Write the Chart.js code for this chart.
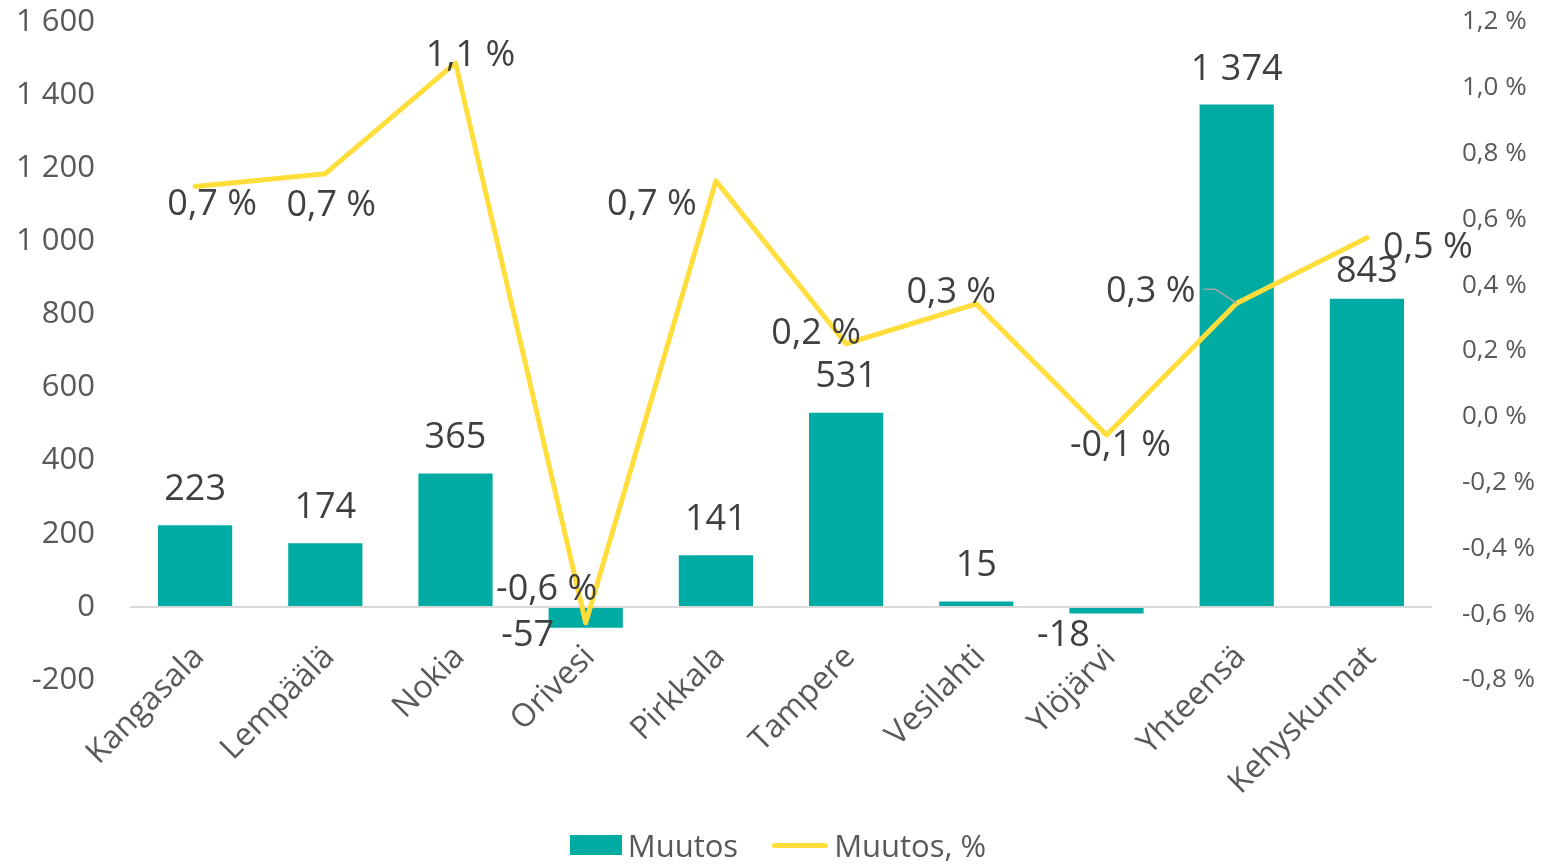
<!DOCTYPE html>
<html>
<head>
<meta charset="utf-8">
<script src="https://cdn.jsdelivr.net/npm/chart.js@4/dist/chart.umd.min.js"></script>
<style>
  html, body { margin: 0; padding: 0; background: #fff; }
  #wrap { position: relative; width: 1556px; height: 864px; }
  #legend {
    position: absolute; left: 0; right: 0; top: 824px; height: 42px;
    display: flex; justify-content: center; align-items: center;
    font-family: 'Open Sans', 'Noto Sans', sans-serif; font-size: 31px; color: #595959;
  }
  #legend .item { display: flex; align-items: center; margin: 0 17px; }
  #legend .mark { margin-right: 6px; }
</style>
</head>
<body>
<div id="wrap">
  <canvas id="chart" width="1556" height="864"></canvas>
  <div id="legend"></div>
</div>
<script>
// data
const categories = ["Kangasala", "Lempäälä", "Nokia", "Orivesi", "Pirkkala", "Tampere", "Vesilahti", "Ylöjärvi", "Yhteensä", "Kehyskunnat"];
const muutos = [223, 174, 365, -57, 141, 531, 15, -18, 1374, 843];
const muutosPct = [0.70, 0.739, 1.076, -0.626, 0.717, 0.222, 0.343, -0.055, 0.345, 0.544];

// label placement (pixel nudges, like Excel's hand-moved labels)
const barLabelDx = [0, 0, 0, -58, 0, 0, 0, -43, 0, 0];
const barLabelDy = [-36, -36, -36, 8, -36, -36, -36, 22, -35, -27];
const lineLabelDx = [17, 6, 15, -39, -64, -30, -25, 14, -86, 61];
const lineLabelDy = [18, 32, -7, -33, 24, -10, -11, 11, -12, 10];
const leader = [false, false, false, false, false, false, false, false, true, false];

const TEAL = "#00ABA3";
const YELLOW = "#FFDE3B";
const FONT = "'Open Sans', 'Noto Sans', sans-serif";

function fmtInt(v) {
  const s = String(Math.abs(v)).replace(/\B(?=(\d{3})+(?!\d))/g, " ");
  return (v < 0 ? "-" : "") + s;
}
function fmtPct(v) {
  if (Math.abs(v) < 1e-9) v = 0;
  return v.toFixed(1).replace(".", ",") + " %";
}

const dataLabels = {
  id: "dataLabels",
  afterDatasetsDraw(chart) {
    const ctx = chart.ctx;
    const yScale = chart.scales.y;
    const xScale = chart.scales.x;
    ctx.save();

    // category labels hang from the zero line, rotated 45°
    ctx.font = "32px " + FONT;
    ctx.fillStyle = "#595959";
    ctx.textAlign = "right";
    ctx.textBaseline = "middle";
    const zeroY = yScale.getPixelForValue(0);
    categories.forEach((c, i) => {
      const x = xScale.getPixelForValue(i);
      ctx.save();
      ctx.translate(x + 4, zeroY + 45);
      ctx.rotate(-Math.PI / 4);
      ctx.fillText(c, 0, 0);
      ctx.restore();
    });

    ctx.font = "36px " + FONT;
    ctx.fillStyle = "#404040";
    ctx.textAlign = "center";
    ctx.textBaseline = "middle";

    const bars = chart.getDatasetMeta(0).data;
    bars.forEach((el, i) => {
      ctx.fillText(fmtInt(muutos[i]), el.x + barLabelDx[i], el.y + barLabelDy[i]);
    });

    const pts = chart.getDatasetMeta(1).data;
    pts.forEach((el, i) => {
      const tx = el.x + lineLabelDx[i];
      const ty = el.y + lineLabelDy[i];
      const txt = fmtPct(muutosPct[i]);
      ctx.fillText(txt, tx, ty);
      if (leader[i]) {
        const w = ctx.measureText(txt).width;
        ctx.strokeStyle = "#A6A6A6";
        ctx.lineWidth = 1.5;
        ctx.beginPath();
        ctx.moveTo(tx + w / 2 + 8, ty - 2);
        ctx.lineTo(tx + w / 2 + 20, ty - 2);
        ctx.lineTo(el.x, el.y);
        ctx.stroke();
      }
    });
    ctx.restore();
  }
};

// vertical axes: fixed widths, and no extra top/bottom padding from tick padding
function fixAxis(width) {
  return function (scale) {
    scale.width = width;
    scale.paddingTop = 22;
    scale.paddingBottom = 18;
  };
}

const chart = new Chart(document.getElementById("chart"), {
  type: "bar",
  data: {
    labels: categories,
    datasets: [
      {
        type: "bar",
        label: "Muutos",
        data: muutos,
        yAxisID: "y",
        backgroundColor: TEAL,
        borderWidth: 0,
        categoryPercentage: 1,
        barPercentage: 0.57,
        order: 2
      },
      {
        type: "line",
        label: "Muutos, %",
        data: muutosPct,
        yAxisID: "y1",
        borderColor: YELLOW,
        backgroundColor: YELLOW,
        borderWidth: 5,
        borderCapStyle: "round",
        borderJoinStyle: "round",
        tension: 0,
        pointRadius: 0,
        pointHoverRadius: 0,
        order: 1
      }
    ]
  },
  options: {
    responsive: false,
    animation: false,
    layout: { autoPadding: false, padding: 0 },
    plugins: {
      tooltip: { enabled: false },
      legend: { display: false }
    },
    scales: {
      x: {
        grid: { display: false, drawTicks: false },
        border: { display: false },
        ticks: { display: false },
        afterFit(scale) { scale.height = 184; }
      },
      y: {
        position: "left",
        min: -200,
        max: 1600,
        grid: {
          drawTicks: false,
          lineWidth: 2,
          color: (c) => (c.tick && c.tick.value === 0 ? "#D9D9D9" : "rgba(0,0,0,0)")
        },
        border: { display: false },
        ticks: {
          stepSize: 200,
          padding: 35,
          color: "#595959",
          font: { family: FONT, size: 31 },
          callback: (v) => fmtInt(v)
        },
        afterFit: fixAxis(130)
      },
      y1: {
        position: "right",
        min: -0.8,
        max: 1.2,
        grid: { display: false, drawTicks: false },
        border: { display: false },
        ticks: {
          stepSize: 0.2,
          padding: 30,
          color: "#595959",
          font: { family: FONT, size: 26 },
          callback: (v) => fmtPct(v)
        },
        afterFit: fixAxis(124)
      }
    }
  },
  plugins: [dataLabels]
});

// legend built from the datasets
const legend = document.getElementById("legend");
chart.data.datasets.forEach((ds) => {
  const item = document.createElement("div");
  item.className = "item";
  const mark = document.createElement("span");
  mark.className = "mark";
  if (ds.type === "line") {
    mark.style.cssText = "display:inline-block;width:56px;height:5px;border-radius:3px;background:" + ds.borderColor;
  } else {
    mark.style.cssText = "display:inline-block;width:52px;height:20px;background:" + ds.backgroundColor;
  }
  const txt = document.createElement("span");
  txt.textContent = ds.label;
  item.appendChild(mark);
  item.appendChild(txt);
  legend.appendChild(item);
});
</script>
</body>
</html>
